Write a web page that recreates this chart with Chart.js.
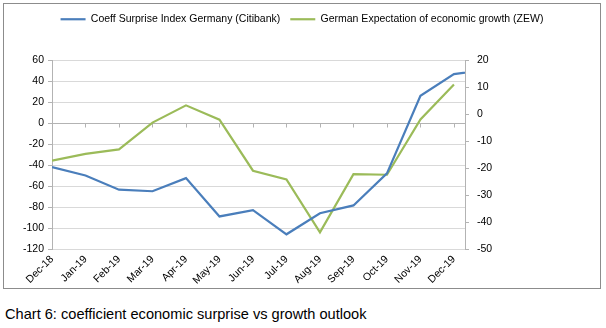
<!DOCTYPE html>
<html>
<head>
<meta charset="utf-8">
<script src="https://cdn.jsdelivr.net/npm/chart.js@4.4.0/dist/chart.umd.min.js"></script>
<style>
  body { margin: 0; background: #fff; width: 606px; height: 328px; position: relative; overflow: hidden; font-family: "Liberation Sans", Arial, sans-serif; }
  #frame { position: absolute; left: 3px; top: 3px; width: 596px; height: 284px; border: 1px solid #8c8c8c; }
  #caption { position: absolute; left: 5px; top: 306px; font-size: 14.6px; color: #000; white-space: nowrap; }
</style>
</head>
<body>
<div id="frame"><canvas id="chart" width="596" height="284"></canvas></div>
<div id="caption">Chart 6: coefficient economic surprise vs growth outlook</div>
<script>
// data
const months = ['Dec-18', 'Jan-19', 'Feb-19', 'Mar-19', 'Apr-19', 'May-19', 'Jun-19',
                'Jul-19', 'Aug-19', 'Sep-19', 'Oct-19', 'Nov-19', 'Dec-19'];
// last surprise value runs past the right axis and gets clipped there
const surpriseIndex = [-42, -50, -63.5, -65, -52.5, -89, -83, -106, -86, -78.5, -48, 26, 46.5, 51];
const zewGrowth = [-17.3, -14.8, -13.1, -3.2, 3.2, -2.1, -21, -24.2, -43.8, -22.3, -22.5, -2, 10.9];
const leftTicks = [-120, -100, -80, -60, -40, -20, 0, 20, 40, 60];
const rightTicks = [-50, -40, -30, -20, -10, 0, 10, 20];

const FONT = { family: '"Liberation Sans", Arial, sans-serif', size: 10.5 };
const GRID = '#d9d9d9';
const AXIS = '#b3b3b3';

// category axis crosses the left axis at 0
const zeroLine = {
    id: 'zeroLine',
    beforeDatasetsDraw(chart) {
        const { ctx, chartArea, scales } = chart;
        const y = Math.round(scales.y.getPixelForValue(0)) + 0.5;
        ctx.save();
        ctx.strokeStyle = AXIS;
        ctx.lineWidth = 1;
        ctx.beginPath();
        ctx.moveTo(chartArea.left, y);
        ctx.lineTo(chartArea.right, y);
        for (let i = 1; i < months.length; i++) {
            const x = Math.round(scales.x.getPixelForValue(i)) + 0.5;
            ctx.moveTo(x, y);
            ctx.lineTo(x, y + 4);
        }
        ctx.stroke();
        ctx.restore();
    }
};

const legendHeight = {
    id: 'legendHeight',
    beforeInit(chart) {
        const fit = chart.legend.fit;
        chart.legend.fit = function () {
            fit.call(this);
            this.height = 56;
        };
    }
};

new Chart(document.getElementById('chart'), {
    type: 'line',
    data: {
        datasets: [{
            label: 'Coeff Surprise Index Germany (Citibank)',
            data: surpriseIndex.map((v, i) => ({ x: i, y: v })),
            borderColor: '#4a7ebb',
            backgroundColor: '#4a7ebb',
            borderWidth: 2.2,
            pointRadius: 0,
            tension: 0,
            yAxisID: 'y'
        }, {
            label: 'German Expectation of economic growth (ZEW)',
            data: zewGrowth.map((v, i) => ({ x: i, y: v })),
            borderColor: '#9bbb59',
            backgroundColor: '#9bbb59',
            borderWidth: 2.2,
            pointRadius: 0,
            tension: 0,
            yAxisID: 'y2'
        }]
    },
    options: {
        responsive: false,
        animation: false,
        layout: { padding: 0 },
        plugins: {
            legend: {
                position: 'top',
                labels: {
                    usePointStyle: true,
                    pointStyle: 'line',
                    pointStyleWidth: 25,
                    padding: 10,
                    color: '#000',
                    font: FONT
                }
            },
            tooltip: { enabled: false }
        },
        scales: {
            x: {
                type: 'linear',
                min: 0,
                max: 12.33,
                grid: { display: false, drawTicks: false },
                border: { display: false },
                ticks: {
                    stepSize: 1,
                    includeBounds: false,
                    autoSkip: false,
                    minRotation: 45,
                    maxRotation: 45,
                    padding: 4,
                    color: '#000',
                    font: FONT,
                    callback: v => months[v] ?? ''
                },
                afterFit(scale) { scale.height = 39; }
            },
            y: {
                position: 'left',
                min: leftTicks[0],
                max: leftTicks[leftTicks.length - 1],
                grid: { color: GRID, tickLength: 4, tickColor: AXIS },
                border: { color: AXIS },
                ticks: { stepSize: 20, padding: 4, color: '#000', font: FONT },
                afterFit(scale) { scale.width = 48; }
            },
            y2: {
                position: 'right',
                min: rightTicks[0],
                max: rightTicks[rightTicks.length - 1],
                grid: { drawOnChartArea: false, tickLength: 4, color: AXIS },
                border: { color: AXIS },
                ticks: { stepSize: 10, padding: 8, color: '#000', font: FONT },
                afterFit(scale) { scale.width = 135; }
            }
        }
    },
    plugins: [zeroLine, legendHeight]
});
</script>
</body>
</html>
